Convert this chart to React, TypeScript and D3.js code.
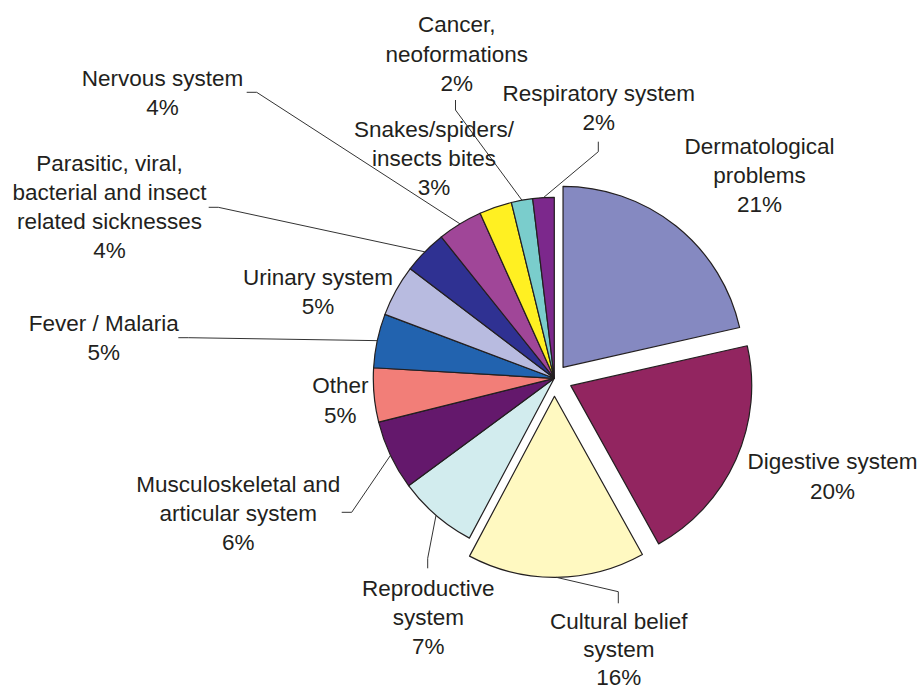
import React from "react";
import * as d3 from "d3";

// ---- data ----
const categories: string[] = [
  "Dermatological\nproblems",
  "Digestive system",
  "Cultural belief\nsystem",
  "Reproductive\nsystem",
  "Musculoskeletal and\narticular system",
  "Other",
  "Fever / Malaria",
  "Urinary system",
  "Parasitic, viral,\nbacterial and insect\nrelated sicknesses",
  "Nervous system",
  "Snakes/spiders/\ninsects bites",
  "Cancer,\nneoformations",
  "Respiratory system",
];
const values: number[] = [21.4, 20.4, 15.8, 7.1, 6.2, 4.8, 4.8, 4.6, 3.9, 4.0, 2.9, 1.9, 1.9];

// ---- styles / layout ----
const colors: string[] = [
  "#8589C1", "#922560", "#FFF9C1", "#D2ECEE", "#64186C", "#F27E78", "#2263AF",
  "#B8BBE0", "#2F3192", "#A04698", "#FFF022", "#7ACDCC", "#7C288C",
];
const explode: number[] = [14, 18, 18, 0, 0, 0, 0, 0, 0, 0, 0, 0, 0];
const labelPos: [number, number][] = [
  [759.5, 154], [832.5, 469.3], [618.8, 629], [428.3, 596], [238.3, 491.7],
  [340.3, 393.3], [103.7, 330.7], [318, 285], [109.5, 170.7], [162.5, 86],
  [434, 136.7], [456.7, 32.3], [598.8, 100.7],
];
// leader line: [startX, startY, elbowX, elbowY] or null
const leaders: ([number, number, number, number] | null)[] = [
  null, null, [618.3, 603.3, 618.3, 591.7], [427.7, 568.3, 427.7, 558.3],
  [341.7, 512.3, 351.7, 512.3], null, [178.3, 337.7, 188.3, 337.7], null,
  [208.7, 207.3, 218.3, 207.3], [246.7, 92.3, 256.7, 92.3], null,
  [455.5, 100, 455.5, 110], [598.3, 141.7, 598.3, 151.7],
];

const W = 921, H = 690;
const CX = 554.3, CY = 378.3, R = 181;
const LINE_H = 29.2;
const TEXT = "#231F20";

export default function App() {
  const total = d3.sum(values);
  const pie = d3.pie<number>().sort(null).startAngle(0).endAngle(2 * Math.PI);
  const arcs = pie(values);
  const arcGen = d3.arc<d3.PieArcDatum<number>>().innerRadius(0).outerRadius(R);

  return (
    <svg width={W} height={H} style={{ position: "absolute", left: 0, top: 0, background: "#fff" }}
      fontFamily="'Liberation Sans', Arial, sans-serif">
      <rect width={W} height={H} fill="#fff" />
      {arcs.map((a, i) => {
        const mid = (a.startAngle + a.endAngle) / 2;
        const dx = Math.sin(mid) * explode[i];
        const dy = -Math.cos(mid) * explode[i];
        return (
          <path key={"s" + i} d={arcGen(a) || ""} transform={`translate(${CX + dx},${CY + dy})`}
            fill={colors[i]} stroke="#231F20" strokeWidth={1.2} strokeLinejoin="round" />
        );
      })}
      {arcs.map((a, i) => {
        const L = leaders[i];
        if (!L) return null;
        const mid = (a.startAngle + a.endAngle) / 2;
        const ex = CX + Math.sin(mid) * (R + explode[i]);
        const ey = CY - Math.cos(mid) * (R + explode[i]);
        return (
          <polyline key={"l" + i} points={`${L[0]},${L[1]} ${L[2]},${L[3]} ${ex},${ey}`}
            fill="none" stroke="#333" strokeWidth={1} />
        );
      })}
      {arcs.map((a, i) => {
        const lines = categories[i].split("\n");
        lines.push(Math.round((values[i] / total) * 100) + "%");
        const [x, y] = labelPos[i];
        const lh = i === 2 ? 27.8 : LINE_H;
        return (
          <text key={"t" + i} x={x} y={y} textAnchor="middle" fontSize={22.5} fill={TEXT}>
            {lines.map((ln, j) => (
              <tspan key={j} x={x} y={y + j * lh}>{ln}</tspan>
            ))}
          </text>
        );
      })}
    </svg>
  );
}
